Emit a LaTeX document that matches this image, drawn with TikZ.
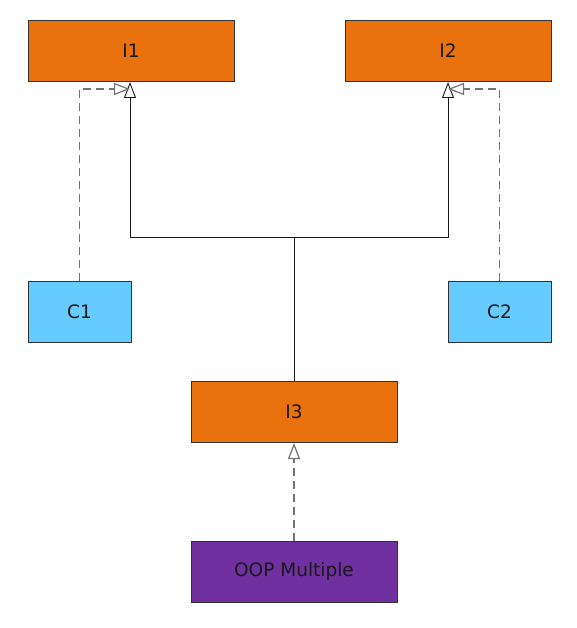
\documentclass[tikz,border=0pt]{standalone}
\usepackage{fontspec}
\setmainfont{DejaVu Sans}
\usetikzlibrary{arrows.meta}

\definecolor{ifaceorange}{RGB}{233,113,14}
\definecolor{classblue}{RGB}{102,204,255}
\definecolor{mainpurple}{RGB}{112,48,160}

\begin{document}
\begin{tikzpicture}[x = 1pt, y = -1pt, > = {Triangle[open, length = 16pt, width = 12pt]},
	box/.style = {draw = black!80, line width = 1pt, inner sep = 0pt, minimum height = 61pt, font = \fontsize{18.5}{22}\selectfont, text = black!90},
	iface/.style = {box, fill = ifaceorange, minimum width = 206pt},
	klass/.style = {box, fill = classblue, minimum width = 103pt},
	extends/.style = {->, line width = 0.9pt, black!90},
	realizes/.style = {->, line width = 1.2pt, black!55, dash pattern = on 8pt off 5pt}]

\useasboundingbox (0, 0) rectangle (577, 628);

% interfaces
\node [iface] (I1) at (131, 51) {I1};
\node [iface] (I2) at (448, 51) {I2};
\node [iface] (I3) at (294, 412) {I3};

% classes
\node [klass] (C1) at (79.5, 311.5) {C1};
\node [klass] (C2) at (499.5, 311.5) {C2};
\node [box, fill = mainpurple, minimum width = 206pt] (OOP) at (294, 571.5) {OOP Multiple};

% I3 extends I1 and I2
\coordinate (split) at (294, 237);
\draw [extends] (I3.north) -- (split) -| ([xshift = -1pt] I1.south);
\draw [extends] (split) -| (I2.south);

% realizations
\coordinate (r1) at (130, 89);
\coordinate (r2) at (448, 89);
\draw [realizes] (C1.north) |- (r1);
\draw [realizes] (C2.north) |- (r2);
\draw [realizes] (OOP.north) -- (I3.south);

\end{tikzpicture}
\end{document}
